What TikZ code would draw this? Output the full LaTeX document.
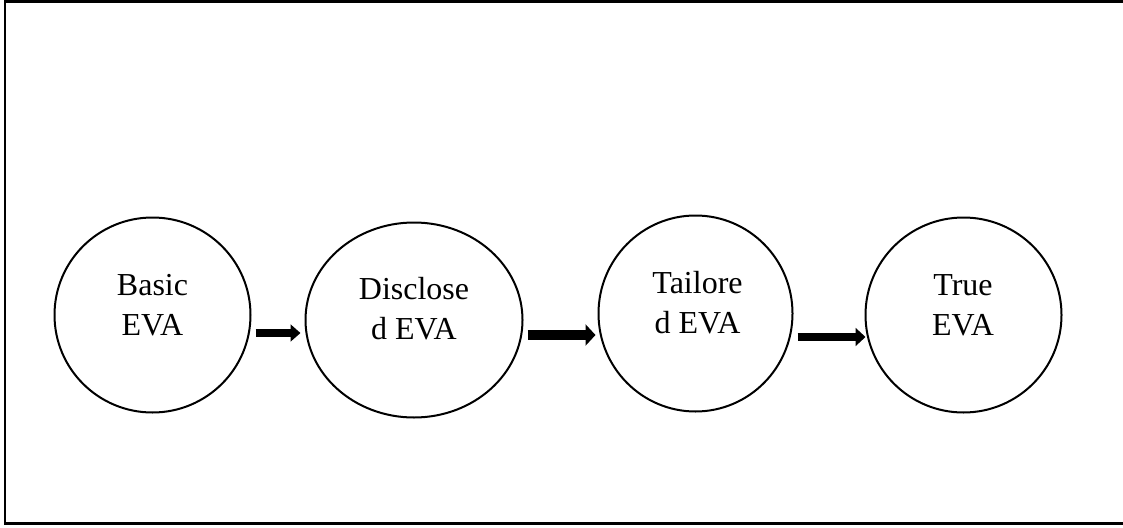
\documentclass[tikz,border=0pt]{standalone}
\usepackage{fontspec}
\setmainfont{Liberation Serif}
\usetikzlibrary{shapes.geometric,arrows.meta}
\begin{document}
\begin{tikzpicture}[x=1pt,y=-1pt,
  stage/.style={ellipse,draw,line width=2pt,inner sep=0pt},
  lbl/.style={align=center,inner sep=0pt,anchor=base,
    font=\fontsize{32}{40}\selectfont},
  blk/.style={line width=#1,-{Triangle[length=10pt,width=2.1*#1]}},
]
\useasboundingbox (0,0) rectangle (1123,527);
% outer frame
\draw[line width=2.5pt] (5,1.5) rectangle (1135,523.5);

% stages of EVA
\node[stage,minimum width=196pt,minimum height=195pt] (c1) at (152.5,315) {};
\node[stage,minimum width=217pt,minimum height=195pt] (c2) at (414,320) {};
\node[stage,minimum width=194pt,minimum height=196pt] (c3) at (695.5,313.5) {};
\node[stage,minimum width=196pt,minimum height=195pt] (c4) at (963.5,315) {};

% labels (anchored on the baseline of the second line)
\node[lbl] (t1) at (152.5,335) {Basic\\EVA};
\node[lbl] (t2) at (414,339) {Disclose\\d EVA};
\node[lbl] (t3) at (697.5,333) {Tailore\\d EVA};
\node[lbl] (t4) at (963,335) {True\\EVA};

% block arrows between stages
\draw[blk=8pt] ([xshift=4pt,yshift=-18pt]c1.east) -- ([xshift=-4pt,yshift=-13pt]c2.west);
\draw[blk=10pt] ([xshift=4pt,yshift=-15pt]c2.east) -- ([xshift=-2pt,yshift=-21.5pt]c3.west);
\draw[blk=8.5pt] ([xshift=4pt,yshift=-23.5pt]c3.east) -- ([xshift=1pt,yshift=-22pt]c4.west);
\end{tikzpicture}
\end{document}
